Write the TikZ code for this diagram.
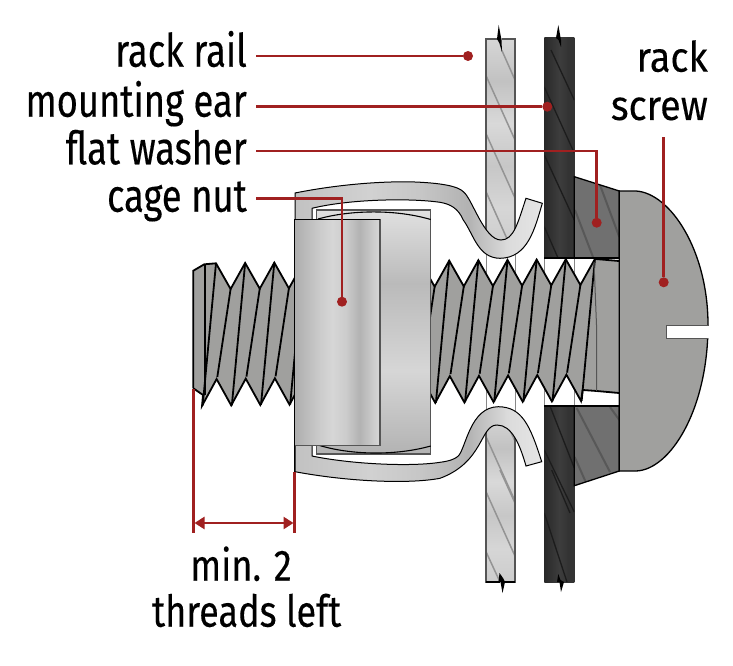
\documentclass[tikz,border=0pt]{standalone}
\usepackage{fontspec}
\setmainfont[FakeStretch=0.79,FakeBold=0.3]{Fira Sans}
\newfontfamily\midfont[FakeStretch=0.82,FakeBold=0.2]{Fira Sans}
\newfontfamily\widefont[FakeStretch=0.9,FakeBold=0.2]{Fira Sans}
\usetikzlibrary{arrows.meta}
\definecolor{lead}{RGB}{160,32,32}
\definecolor{threadc}{RGB}{160,160,158}
\definecolor{headc}{RGB}{160,160,158}
\definecolor{washc}{RGB}{112,112,112}
\definecolor{washh}{RGB}{88,88,88}
\definecolor{railh}{RGB}{148,148,148}
\definecolor{earh}{RGB}{28,28,28}
\definecolor{edgeg}{RGB}{85,85,85}
\pgfdeclareverticalshading{railshade}{100bp}{color(0bp)=(black!18);color(25bp)=(black!20);color(35bp)=(black!16);color(45bp)=(black!22);color(55bp)=(black!15);color(65bp)=(black!24);color(75bp)=(black!16);color(100bp)=(black!16)}
\pgfdeclarehorizontalshading{earshade}{100bp}{color(0bp)=(black!84);color(25bp)=(black!84);color(50bp)=(black!76);color(65bp)=(black!80);color(75bp)=(black!80);color(100bp)=(black!80)}
\pgfdeclarehorizontalshading{clipshade}{100bp}{color(0bp)=(black!22);color(25bp)=(black!24);color(40bp)=(black!18);color(50bp)=(black!22);color(60bp)=(black!30);color(68bp)=(black!14);color(75bp)=(black!10);color(100bp)=(black!10)}
\pgfdeclarehorizontalshading{frontshade}{100bp}{color(0bp)=(black!32);color(25bp)=(black!32);color(40bp)=(black!20);color(47bp)=(black!16);color(55bp)=(black!20);color(63bp)=(black!30);color(75bp)=(black!15);color(100bp)=(black!15)}
\pgfdeclareverticalshading{backshade}{100bp}{color(0bp)=(black!30);color(25bp)=(black!30);color(42bp)=(black!16);color(60bp)=(black!27);color(75bp)=(black!12);color(100bp)=(black!12)}
\tikzset{
  lbl/.style={font=\fontsize{46}{46}\selectfont,text=black,inner sep=0pt},
  lblmid/.style={font=\midfont\fontsize{44}{44}\selectfont,text=black,inner sep=0pt},
  lblwide/.style={font=\widefont\fontsize{42}{42}\selectfont,text=black,inner sep=0pt},
  leader/.style={draw=lead,line width=2.9pt},
  dotn/.style={circle,fill=lead,inner sep=0pt,minimum size=10pt},
  railline/.style={draw=railh,line width=1.5pt},
  earline/.style={draw=earh,line width=1.3pt},
  washline/.style={draw=washh,line width=2pt},
  threadline/.style={draw=black,line width=1.8pt,line join=miter},
  sliver/.style={fill=black,draw=none},
}
\begin{document}
\begin{tikzpicture}[x=1pt,y=-1pt]
\useasboundingbox (0,0) rectangle (733,666);
\fill[white] (0,0) rectangle (733,666);
% faint edges of rail and ear behind the screw
\draw[edgeg!70,line width=1pt] (486,245)--(486,415) (515,245)--(515,415);
\draw[edgeg!70,line width=1pt] (544.3,258)--(544.3,406) (574.3,258)--(574.3,406);
% rail
\shade[shading=railshade] (486,39) rectangle (515,250);
\shade[shading=railshade] (486,415) rectangle (515,582);
\begin{scope}
\clip (486,39) rectangle (515,250);
\draw[railline] (501.7,50)--(515,80) (485.7,75)--(515,140) (485.7,133)--(515,198) (485.7,191)--(512,250);
\end{scope}
\begin{scope}
\clip (486,415) rectangle (515,582);
\draw[railline] (508,426)--(515,441) (486,436.7)--(515,501) (500,470)--(515,503) (486,491.7)--(515,556) (486,551.7)--(500,582);
\end{scope}
\draw[edgeg,line width=1.2pt] (486,250)--(486,39)--(515,39)--(515,250);
\draw[edgeg,line width=1.2pt] (486,415)--(486,582)--(515,582)--(515,415);
\draw[black,line width=1.2pt] (486,582)--(515,582);
\fill[white] (497,37.5)--(501.5,37.5)--(501.5,41)--(499,41)--cycle;
\fill[sliver] (497,39)--(498.7,25)--(501.5,40)--(502,52)--(499.3,43)--cycle;
\fill[white] (499.5,583.5)--(504,583.5)--(504,581)--(499.5,581)--cycle;
\fill[sliver] (498.5,582)--(499.5,573)--(503,578)--(505,582)--(502.5,593)--(500.5,582)--cycle;
% ear
\shade[shading=earshade] (544.3,38) rectangle (574.3,258);
\shade[shading=earshade] (544.3,406) rectangle (574.3,582);
\begin{scope}
\clip (544.3,38) rectangle (574.3,258);
\draw[earline] (551,50)--(574.3,100) (544.3,87)--(574.3,153) (544.3,155)--(574.3,220) (544.3,226.7)--(558,258);
\end{scope}
\begin{scope}
\clip (544.3,406) rectangle (574.3,582);
\draw[earline] (550,406)--(574.3,468) (544.3,450)--(574.3,512) (551.7,470)--(570,513) (544.3,513)--(567,582);
\end{scope}
\fill[sliver] (556,38)--(558.3,25)--(561,40)--(561,47)--(558.5,40)--cycle;
\fill[sliver] (557,582)--(558.3,574)--(560.5,580)--(564,582)--(561,592)--(559.5,582)--cycle;
% washer
\fill[washc] (574.3,176.7)--(619.3,191)--(619.3,258)--(574.3,258)--cycle;
\fill[washc] (574.3,406)--(619.3,406)--(619.3,471)--(574.3,485.7)--cycle;
\begin{scope}
\clip (574.3,176.7)--(619.3,191)--(619.3,258)--(574.3,258)--cycle;
\draw[washline] (600,185)--(619.3,237) (575,210)--(593,257);
\end{scope}
\begin{scope}
\clip (574.3,406)--(619.3,406)--(619.3,471)--(574.3,485.7)--cycle;
\draw[washline] (610,407)--(619.3,420) (576.7,408)--(610,472) (574.7,457)--(585.7,482);
\end{scope}
\draw[black,line width=1.3pt] (574.3,258)--(574.3,176.7)--(619.3,191)--(619.3,258);
\draw[black,line width=1.3pt] (574.3,406)--(574.3,485.7)--(619.3,471)--(619.3,406);
\draw[black,line width=2pt] (544.3,258)--(619.3,258);
\draw[black,line width=2pt] (544.3,406)--(619.3,406);
% screw shank
\fill[threadc] (193.3,270.7)--(204.3,264.3)--(216,263.3)
  \foreach \k in {0,...,12}{ --({216+29.15*\k+14.6},{289.2-0.0115*(29.15*\k+14.6)}) --({216+29.15*(\k+1)},{263.3-0.0115*(29.15*(\k+1))}) }
  --(619,261)--(619,393)--(596.7,391)--(582.7,390)--(581,401)
  \foreach \k in {0,...,12}{ --({581-29.15*\k-14.6},{374.5+0.0125*(29.15*\k+14.6)}) --({581-29.15*(\k+1)},{401+0.0125*(29.15*(\k+1))}) }
  --(203,395)--(193.3,388.3)--cycle;
\draw[threadline] (193.3,388.3)--(193.3,270.7)--(204.3,264.3)--(216,263.3)
  \foreach \k in {0,...,12}{ --({216+29.15*\k+14.6},{289.2-0.0115*(29.15*\k+14.6)}) --({216+29.15*(\k+1)},{263.3-0.0115*(29.15*(\k+1))}) }
  --(619,261);
\draw[threadline] (619,393)--(596.7,391)--(582.7,390)--(581,401)
  \foreach \k in {0,...,12}{ --({581-29.15*\k-14.6},{374.5+0.0125*(29.15*\k+14.6)}) --({581-29.15*(\k+1)},{401+0.0125*(29.15*(\k+1))}) }
  --(203,395)--(193.3,388.3);
\draw[threadline] (205,265)--(205,395);
\foreach \k in {0,...,13}{
  \draw[threadline] ({216+29.15*\k},{263.3-0.0115*(29.15*\k)})--({202.7+29.15*\k},{405.6-0.0125*(29.15*\k)});
}
\foreach \k in {0,...,12}{
  \draw[threadline] ({230.6+29.15*\k},{289-0.0115*(29.15*\k)})--({217.3+29.15*\k},{377-0.0125*(29.15*\k)});
}
\draw[edgeg,line width=1pt] (594,262)--(596.7,330)--(596.7,391);
% screw head
\fill[headc] (619.3,191)--(636,191) .. controls (670,193) and (708,250) .. (708,325)
 .. controls (708,410) and (670,470) .. (636,471)--(619.3,471)--cycle;
\draw[black,line width=1.3pt] (619.3,191)--(636,191) .. controls (670,193) and (708,250) .. (708,325)
 .. controls (708,410) and (670,470) .. (636,471)--(619.3,471)--cycle;
\fill[white] (666.5,325.5) rectangle (708.8,338);
\draw[edgeg,line width=1pt] (708,338)--(666.5,338)--(666.5,325.5)--(708,325.5);
% nut back
\shade[shading=backshade] (316.7,210) rectangle (430.7,454);
\draw[edgeg,line width=1.1pt] (316.7,210) rectangle (430.7,454);
\draw[black,line width=1.1pt] (318,219) .. controls (350,210) and (395,209) .. (430.7,219.5);
\draw[black,line width=1.1pt] (318,445) .. controls (350,455) and (395,456) .. (430.7,446);
% clip
\def\clippath{(295,193) .. controls (340,184) and (385,181) .. (415,182)
 .. controls (440,183) and (458,186) .. (463.3,191.7)
 .. controls (472,198) and (484,240) .. (501,240)
 .. controls (514,240) and (518,222) .. (526,198.3)
 -- (542.3,203.3)
 .. controls (535,228) and (528,258) .. (500,258.3)
 .. controls (478,258) and (474,235) .. (463.3,220)
 .. controls (458,208) and (450,204) .. (440,202.3)
 .. controls (410,198) and (350,199) .. (312,208.3)
 -- (312,456)
 .. controls (350,464) and (410,467) .. (440,462.3)
 .. controls (450,461) and (455,459) .. (458.3,456)
 .. controls (466,448) and (470,407) .. (498.3,406.7)
 .. controls (522,407) and (530,425) .. (541.7,461.7)
 -- (526,466)
 .. controls (520,445) and (512,425) .. (497,425)
 .. controls (480,425) and (484,462) .. (440,478.3)
 .. controls (410,484) and (350,482) .. (295,471.7) -- cycle}
\shade[shading=clipshade] \clippath;
\draw[black,line width=1pt] \clippath;
% nut front
\shade[shading=frontshade] (294.7,219.3) rectangle (380,445.3);
\draw[edgeg,line width=1.1pt] (380,219.3)--(380,445.3)--(294.7,445.3);
\draw[black,line width=1.1pt] (380,219.3)--(294.7,219.3)--(294.7,471.7);
% targets
\node[dotn] (drail) at (468,56) {};
\node[dotn] (dear) at (547.3,106.7) {};
\node[dotn] (dwash) at (596.7,222.7) {};
\node[dotn] (dnut) at (342,301.7) {};
\node[dotn] (dscrew) at (663.7,282.3) {};
% labels
\node[lbl,anchor=base east] (lrail) at (247,66.7) {rack rail};
\node[lbl,anchor=base east] (lear) at (247,116.7) {mounting ear};
\node[lbl,anchor=base east] (lwash) at (247,164.3) {flat washer};
\node[lbl,anchor=base east] (lnut) at (247,211.7) {cage nut};
\node[lblwide,anchor=base east] (lrack) at (708,71.7) {rack};
\node[lblwide,anchor=base east] (lscrew) at (708,120) {screw};
\node[lblmid,anchor=base] (lmin) at (241,580.7) {min. 2};
\node[lblmid,anchor=base] (lthr) at (246.7,626.7) {threads left};
% leaders
\coordinate (srail) at (256,56);
\coordinate (sear) at (256,106.7);
\coordinate (swash) at (256,151);
\coordinate (snut) at (256,198.3);
\coordinate (sscrew) at (663.7,137);
\draw[leader] (srail)--(drail);
\draw[leader] (sear)--(dear);
\draw[leader] (swash)-|(dwash);
\draw[leader] (snut)-|(dnut);
\draw[leader] (sscrew)--(dscrew);
% dimension
\coordinate (dimat) at (193.3,389);
\coordinate (dimbt) at (294.7,472);
\coordinate (dima) at (193.3,533);
\coordinate (dimb) at (294.7,533);
\coordinate (arra) at (194.5,523);
\coordinate (arrb) at (293.5,523);
\draw[leader] (dimat)--(dima);
\draw[leader] (dimbt)--(dimb);
\draw[leader,{Triangle[length=10pt,width=12pt]}-{Triangle[length=10pt,width=12pt]}] (arra)--(arrb);
\end{tikzpicture}
\end{document}
